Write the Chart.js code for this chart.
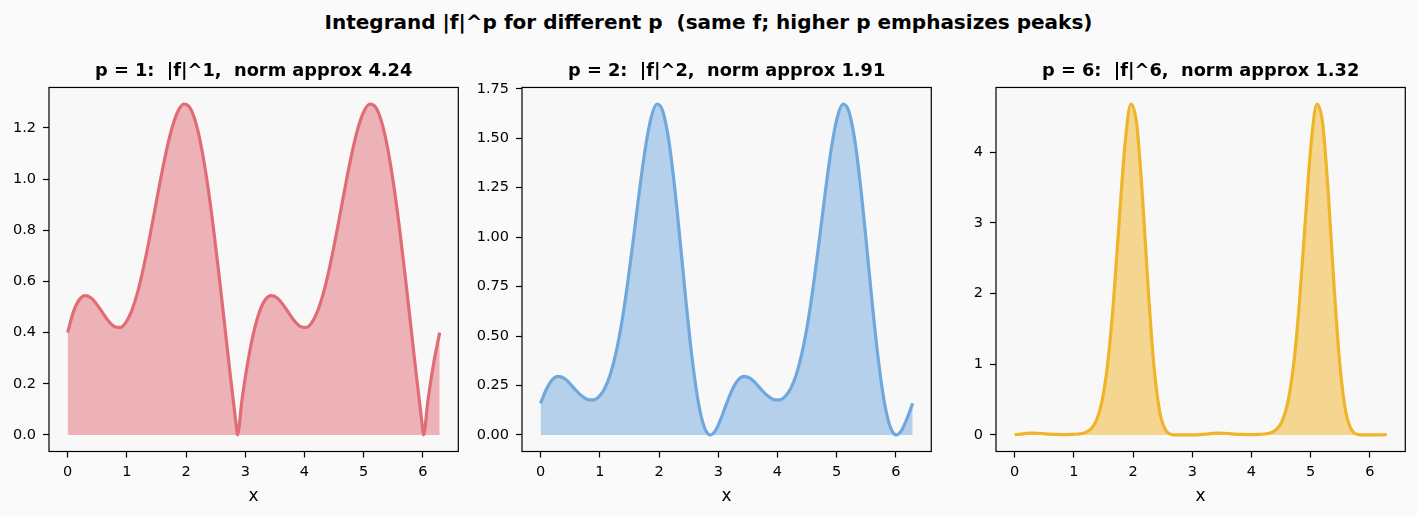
<!DOCTYPE html>
<html>
<head>
<meta charset="utf-8">
<script src="https://cdn.jsdelivr.net/npm/chart.js@4/dist/chart.umd.min.js"></script>
<style>
    html, body { margin: 0; padding: 0; background: #fafafa; }
    body { width: 1417px; height: 516px; position: relative; overflow: hidden; font-family: "DejaVu Sans", sans-serif; }
    #suptitle { position: absolute; left: 0; top: 9.6px; width: 1417px; text-align: center; font-weight: bold;
                font-size: 20px; line-height: 24px; white-space: pre; color: #000; }
    canvas { position: absolute; top: 50px; }
</style>
</head>
<body>
<div id="suptitle">Integrand |f|^p for different p  (same f; higher p emphasizes peaks)</div>
<canvas id="c1" width="467" height="466" style="left:0px"></canvas>
<canvas id="c2" width="467" height="466" style="left:473.3px"></canvas>
<canvas id="c3" width="467" height="466" style="left:946.5px"></canvas>
<script>
// ===== DATA =====
const xs = [
    0, 0.0982, 0.1963, 0.2945, 0.3927, 0.4909, 0.5890, 0.6872, 0.7854, 0.8836,
    0.9817, 1.0799, 1.1781, 1.2763, 1.3744, 1.4726, 1.5708, 1.6690, 1.7671, 1.8653,
    1.9635, 2.0617, 2.1598, 2.2580, 2.3562, 2.4544, 2.5525, 2.6507, 2.7489, 2.8471,
    2.8680, 2.9452, 3.0434, 3.1416,
    3.2398, 3.3379, 3.4361, 3.5343, 3.6325, 3.7306, 3.8288, 3.9270, 4.0252, 4.1233,
    4.2215, 4.3197, 4.4179, 4.5160, 4.6142, 4.7124, 4.8106, 4.9087, 5.0069, 5.1051,
    5.2033, 5.3014, 5.3996, 5.4978, 5.5960, 5.6941, 5.7923, 5.8905, 5.9887,
    6.0096, 6.0868, 6.1850, 6.2832
];

const absF = [
    0.400, 0.481, 0.528, 0.544, 0.536, 0.511, 0.478, 0.446, 0.424, 0.420,
    0.439, 0.484, 0.554, 0.648, 0.759, 0.879, 1.000, 1.111, 1.203, 1.266,
    1.293, 1.280, 1.224, 1.126, 0.990, 0.823, 0.634, 0.432, 0.230, 0.037,
    0, 0.138, 0.285, 0.400,
    0.481, 0.528, 0.544, 0.536, 0.511, 0.478, 0.446, 0.424, 0.420, 0.439,
    0.484, 0.554, 0.648, 0.759, 0.879, 1.000, 1.111, 1.203, 1.266, 1.293,
    1.280, 1.224, 1.126, 0.990, 0.823, 0.634, 0.432, 0.230, 0.037,
    0, 0.138, 0.285, 0.400
];

const absF2 = [
    0.160, 0.231, 0.279, 0.296, 0.287, 0.261, 0.228, 0.199, 0.180, 0.177,
    0.193, 0.234, 0.307, 0.420, 0.575, 0.773, 1.000, 1.235, 1.447, 1.603,
    1.673, 1.638, 1.498, 1.267, 0.980, 0.677, 0.402, 0.187, 0.053, 0.001,
    0, 0.019, 0.081, 0.160,
    0.231, 0.279, 0.296, 0.287, 0.261, 0.228, 0.199, 0.180, 0.177, 0.193,
    0.234, 0.307, 0.420, 0.575, 0.773, 1.000, 1.235, 1.447, 1.603, 1.673,
    1.638, 1.498, 1.267, 0.980, 0.677, 0.402, 0.187, 0.053, 0.001,
    0, 0.019, 0.081, 0.160
];

const absF6 = [
    0.004, 0.012, 0.022, 0.026, 0.024, 0.018, 0.012, 0.008, 0.006, 0.006,
    0.007, 0.013, 0.029, 0.074, 0.191, 0.462, 1.000, 1.883, 3.031, 4.120,
    4.682, 4.398, 3.360, 2.036, 0.941, 0.311, 0.065, 0.007, 0.000, 0.000,
    0, 0.000, 0.001, 0.004,
    0.012, 0.022, 0.026, 0.024, 0.018, 0.012, 0.008, 0.006, 0.006, 0.007,
    0.013, 0.029, 0.074, 0.191, 0.462, 1.000, 1.883, 3.031, 4.120, 4.682,
    4.398, 3.360, 2.036, 0.941, 0.311, 0.065, 0.007, 0.000, 0.000,
    0, 0.000, 0.001, 0.004
];

const xTicks = [0, 1, 2, 3, 4, 5, 6];
const yTicks1 = [0, 0.2, 0.4, 0.6, 0.8, 1.0, 1.2];
const yTicks2 = [0, 0.25, 0.5, 0.75, 1.0, 1.25, 1.5, 1.75];
const yTicks6 = [0, 1, 2, 3, 4];

const titles = [
    'p = 1:  |f|^1,  norm approx 4.24',
    'p = 2:  |f|^2,  norm approx 1.91',
    'p = 6:  |f|^6,  norm approx 1.32'
];

Chart.defaults.font.family = '"DejaVu Sans", sans-serif';
Chart.defaults.color = '#000';

// axes face + full black frame, like matplotlib spines
const frame = {
    id: 'frame',
    beforeDraw(chart) {
        const { ctx, chartArea: a } = chart;
        ctx.save();
        ctx.fillStyle = '#f8f8f8';
        ctx.fillRect(a.left, a.top, a.right - a.left, a.bottom - a.top);
        ctx.restore();
    },
    afterDraw(chart) {
        const { ctx, chartArea: a } = chart;
        ctx.save();
        ctx.strokeStyle = '#000';
        ctx.lineWidth = 1.2;
        ctx.strokeRect(a.left, a.top, a.right - a.left, a.bottom - a.top);
        ctx.restore();
    }
};

function makePanel(id, title, ys, lineColor, fillColor, yTicks, dp) {
    const span = xs[xs.length - 1] - xs[0];
    const yMax = Math.max(...ys);
    new Chart(document.getElementById(id), {
        type: 'line',
        data: {
            datasets: [{
                data: xs.map((x, i) => ({ x, y: ys[i] })),
                borderColor: lineColor,
                backgroundColor: fillColor,
                borderWidth: 3.2,
                pointRadius: 0,
                fill: 'origin',
                cubicInterpolationMode: 'monotone'
            }]
        },
        options: {
            responsive: false,
            animation: false,
            events: [],
            layout: { padding: { left: 0, right: 8.7, top: 0, bottom: 0 } },
            plugins: {
                legend: { display: false },
                tooltip: { enabled: false },
                title: {
                    display: true, text: title, color: '#000',
                    fullSize: false,   // centre over the plot area, not the canvas
                    font: { size: 17.8, weight: 'bold' },
                    padding: { top: 10.5, bottom: 5.6 }
                }
            },
            scales: {
                x: {
                    type: 'linear',
                    min: xs[0] - 0.05 * span,
                    max: xs[xs.length - 1] + 0.05 * span,
                    afterBuildTicks: s => { s.ticks = xTicks.map(v => ({ value: v })); },
                    afterFit: s => { s.height = 64.5; },
                    border: { display: false },
                    grid: { drawOnChartArea: false, tickLength: 6, tickColor: '#000', tickWidth: 1.2 },
                    ticks: { font: { size: 14.5 }, padding: 6, maxRotation: 0, callback: v => String(v) },
                    title: { display: true, text: 'x', font: { size: 17 }, padding: { top: 2, bottom: 9.5 } }
                },
                y: {
                    min: -0.05 * yMax,
                    max: 1.05 * yMax,
                    afterBuildTicks: s => { s.ticks = yTicks.map(v => ({ value: v })); },
                    afterFit: s => { s.width = 49; },
                    border: { display: false },
                    grid: { drawOnChartArea: false, tickLength: 6, tickColor: '#000', tickWidth: 1.2 },
                    ticks: { font: { size: 14.5 }, padding: 7, callback: v => v.toFixed(dp) }
                }
            }
        },
        plugins: [frame]
    });
}

makePanel('c1', titles[0], absF, 'rgb(224,108,118)', 'rgba(224,108,118,0.5)', yTicks1, 1);
makePanel('c2', titles[1], absF2, 'rgb(111,168,220)', 'rgba(111,168,220,0.5)', yTicks2, 2);
makePanel('c3', titles[2], absF6, 'rgb(240,180,41)', 'rgba(240,180,41,0.5)', yTicks6, 0);
</script>
</body>
</html>
